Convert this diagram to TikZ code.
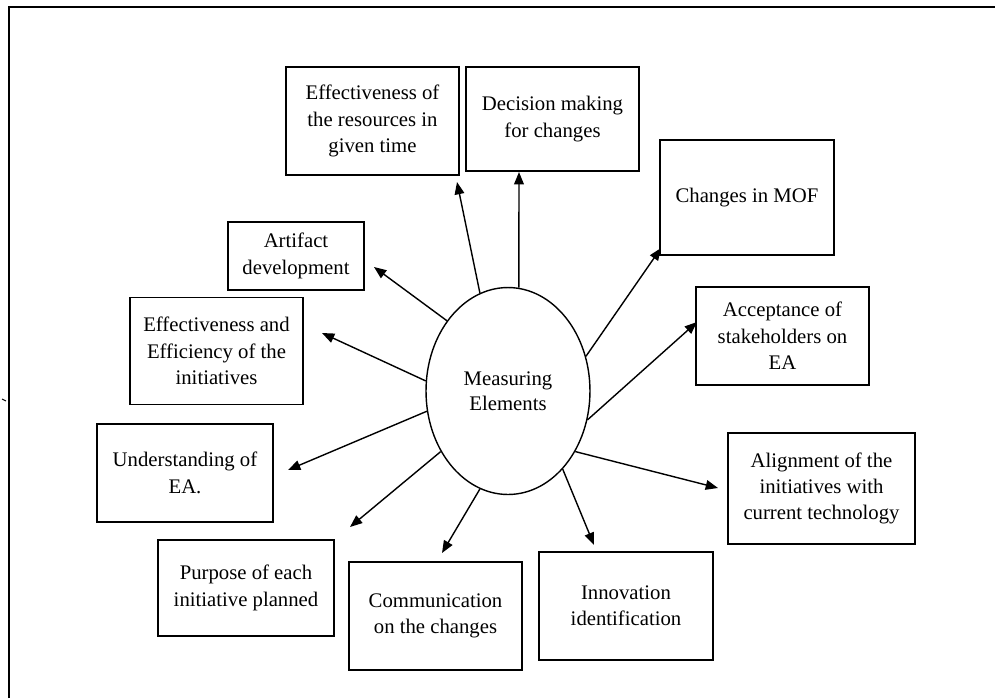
\documentclass[tikz,border=0pt]{standalone}
\usepackage{fontspec}
\setmainfont{Liberation Serif}
\usetikzlibrary{shapes.geometric,arrows.meta}
\begin{document}
\begin{tikzpicture}[x=0.02cm,y=-0.02cm,
  box/.style={draw, line width=1pt, align=center, inner sep=2pt,
    font=\fontsize{11.8}{15}\selectfont},
  hub/.style={draw, ellipse, line width=0.8pt, minimum width=3.28cm,
    minimum height=4.14cm, inner sep=0pt, align=center,
    font=\fontsize{11.8}{14.2}\selectfont},
  arr/.style={line width=0.8pt, -{Triangle[length=7pt,width=5.5pt]}}]
\useasboundingbox (0,0) rectangle (995,698);
% outer frame (left and top edges)
\draw[line width=1.4pt] (9,698) -- (9,7) -- (995,7);
\draw[line width=0.6pt] (2,399) -- (6,401);

% central element
\node[hub] (c) at (508,391) {Measuring\\Elements};

% surrounding elements
\node[box, minimum width=3.46cm, minimum height=2.16cm] (b1) at (372.5,121)
  {Effectiveness of\\the resources in\\given time};
\node[box, minimum width=3.46cm, minimum height=2.08cm] (b2) at (552.5,119)
  {Decision making\\for changes};
\node[box, minimum width=3.48cm, minimum height=2.30cm] (b3) at (747,197.5)
  {Changes in MOF};
\node[box, minimum width=3.46cm, minimum height=1.96cm] (b4) at (782.5,336)
  {Acceptance of\\stakeholders on\\EA};
\node[box, minimum width=3.74cm, minimum height=2.22cm] (b5) at (821.5,488.5)
  {Alignment of the\\initiatives with\\current technology};
\node[box, minimum width=3.48cm, minimum height=2.16cm] (b6) at (626,606)
  {Innovation\\identification};
\node[box, minimum width=3.46cm, minimum height=2.16cm] (b7) at (435.5,616)
  {Communication\\on the changes};
\node[box, minimum width=3.52cm, minimum height=1.92cm] (b8) at (246,588)
  {Purpose of each\\initiative planned};
\node[box, minimum width=3.52cm, minimum height=1.96cm] (b9) at (185,473)
  {Understanding of\\EA.};
\node[box, minimum width=3.46cm, minimum height=2.14cm] (b10) at (216.5,351)
  {Effectiveness and\\Efficiency of the\\initiatives};
\node[box, minimum width=2.72cm, minimum height=1.36cm] (b11) at (296,256)
  {Artifact\\development};

% arrow tips
\coordinate (t1) at (457,182);
\coordinate (t2) at (519,172);
\coordinate (t3) at (661,248);
\coordinate (t4) at (697,322);
\coordinate (t5) at (718,488);
\coordinate (t6) at (594,545);
\coordinate (t7) at (442,553);
\coordinate (t8) at (350,527);
\coordinate (t9) at (288,470);
\coordinate (t10) at (322,333);
\coordinate (t11) at (374,267);

% connectors: start angle on the ellipse / tip
\foreach \a/\i in {106/1, 84/2, 24/3, 340/4, 318/5, 305/6,
                   254/7, 222/8, 194/9, 173/10, 131/11}
  \draw[arr] (c.\a) -- (t\i);
\end{tikzpicture}
\end{document}
